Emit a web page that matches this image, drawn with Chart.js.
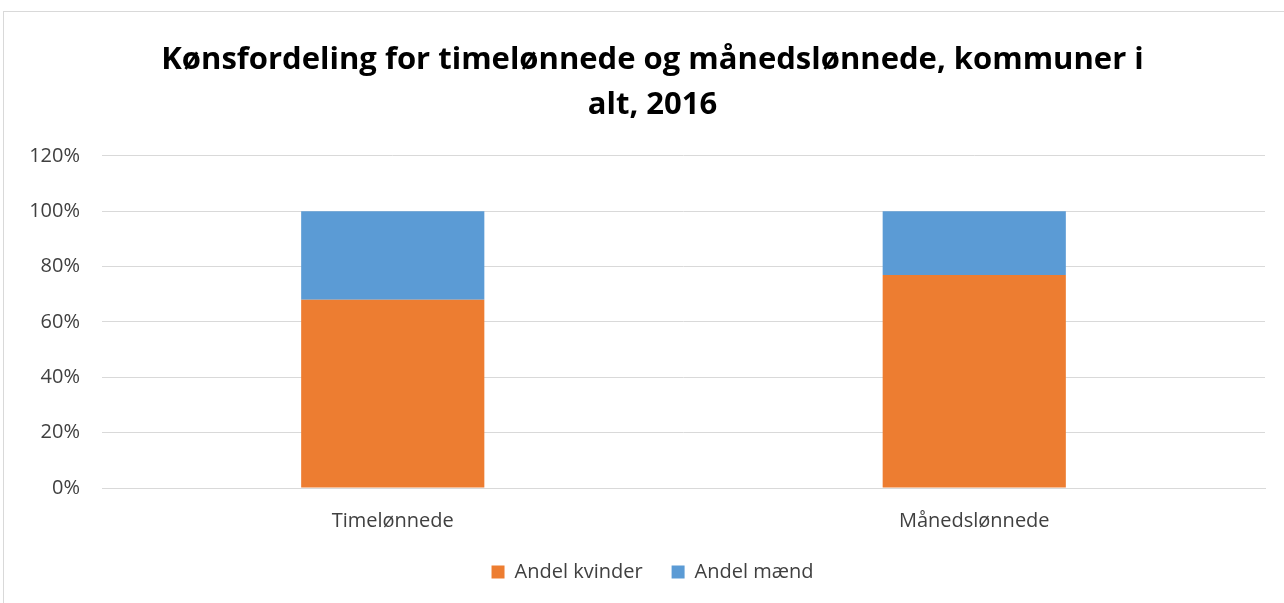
<!DOCTYPE html>
<html><head><meta charset="utf-8">
<script src="https://cdn.jsdelivr.net/npm/chart.js@4/dist/chart.umd.min.js"></script>
<style>
html,body{margin:0;padding:0;background:#fff;overflow:hidden;}
#frame{position:absolute;left:3px;top:11px;width:1320px;height:640px;border:1px solid #d9d9d9;}
#wrap{position:absolute;left:0;top:0;width:1306px;height:603px;}
</style></head>
<body>
<div id="frame"></div>
<div id="wrap"><canvas id="c" width="1306" height="603"></canvas></div>
<script>
const titleLines = ["Kønsfordeling for timelønnede og månedslønnede, kommuner i", "alt, 2016"];
const categories = ["Timelønnede", "Månedslønnede"];
const seriesNames = ["Andel kvinder", "Andel mænd"];
const andelKvinder = [0.68, 0.77];
const andelMaend = [0.32, 0.23];
const yTicks = [0, 0.2, 0.4, 0.6, 0.8, 1.0, 1.2];

const FONT = "'Open Sans', sans-serif";
const CENTER_SHIFT = 20;
const shiftBlocks = {
  id: 'shiftBlocks',
  afterLayout(chart) {
    for (const b of [chart.titleBlock, chart.legend]) {
      if (b) { b.left += CENTER_SHIFT; b.right += CENTER_SHIFT; }
    }
  }
};
new Chart(document.getElementById('c'), {
  type: 'bar',
  data: {
    labels: categories,
    datasets: [
      {label: seriesNames[0], data: andelKvinder, backgroundColor: '#ED7D31', barPercentage: 0.63, categoryPercentage: 0.5},
      {label: seriesNames[1], data: andelMaend, backgroundColor: '#5B9BD5', barPercentage: 0.63, categoryPercentage: 0.5}
    ]
  },
  plugins: [shiftBlocks],
  options: {
    responsive: false,
    animation: false,
    layout: {padding: {top: 38, right: 41, bottom: 11, left: 0}},
    plugins: {
      title: {display: true, text: titleLines, color: '#000', font: {family: FONT, size: 31, weight: 'bold', lineHeight: 1.45}, padding: {top: 0, bottom: 28}},
      legend: {position: 'bottom', labels: {color: '#404040', font: {family: FONT, size: 20}, boxWidth: 13, boxHeight: 13, padding: 29}},
      tooltip: {enabled: false}
    },
    scales: {
      x: {
        stacked: true,
        afterFit: (s) => { s.height = 45; },
        grid: {display: false, drawTicks: false},
        border: {display: true, color: '#d9d9d9'},
        ticks: {color: '#404040', font: {family: FONT, size: 20}, padding: 21}
      },
      y: {
        stacked: true,
        min: 0, max: 1.2,
        afterBuildTicks: (s) => { s.ticks = yTicks.map(v => ({value: v})); },
        afterFit: (s) => { s.width = 102; },
        grid: {color: '#d9d9d9', drawTicks: false},
        border: {display: false},
        ticks: {color: '#404040', font: {family: FONT, size: 20}, padding: 22, callback: (v) => Math.round(v * 100) + '%'}
      }
    }
  }
});
</script>
</body></html>
